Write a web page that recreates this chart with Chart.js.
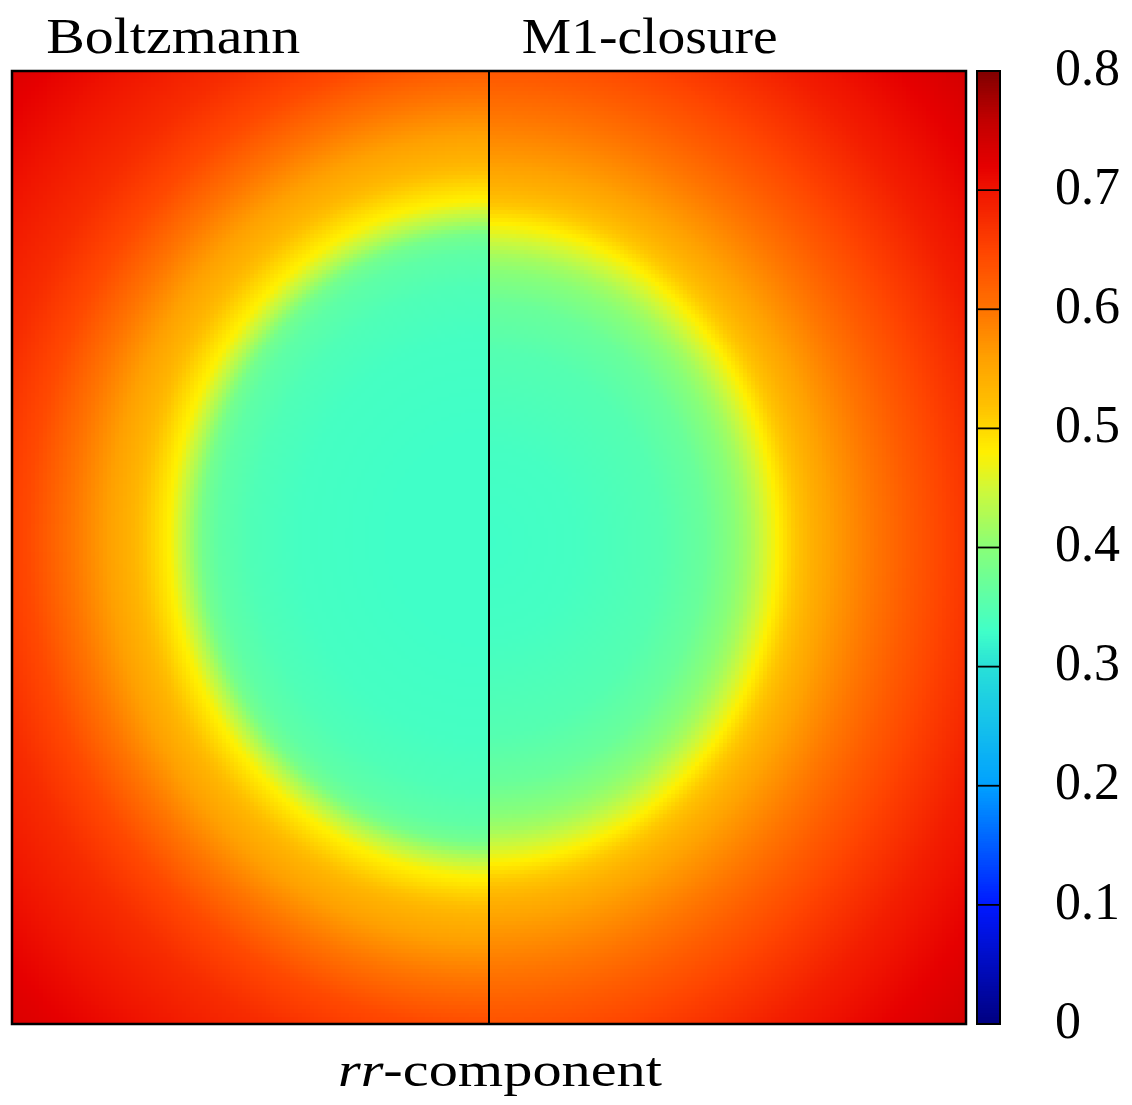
<!DOCTYPE html>
<html lang="en">
<head>
<meta charset="UTF-8">
<title>rr-component</title>
<script src="https://cdn.jsdelivr.net/npm/chart.js"></script>
<style>
  html, body { margin: 0; padding: 0; background: #fff; }
  #wrap { width: 1132px; height: 1105px; }
</style>
</head>
<body>
<div id="wrap"><canvas id="field"></canvas></div>
<script>
// panel titles, left half then right half
const panelNames = ['Boltzmann', 'M1-closure'];
const cbTicks = [0, 0.1, 0.2, 0.3, 0.4, 0.5, 0.6, 0.7, 0.8];

// rr value along the elliptical radius (1 = the yellow front)
const rhoKnots    = [0,    0.3,  0.6,   0.75,  0.85, 0.9,  0.95, 1.0,   1.05, 1.12,  1.2,  1.3,   1.45,  1.6,   1.8,  2.0,   2.3];
const boltzmannRR = [0.33, 0.33, 0.335, 0.345, 0.36, 0.38, 0.43, 0.475, 0.5,  0.535, 0.56, 0.595, 0.645, 0.675, 0.7,  0.725, 0.75];
const m1RR        = [0.33, 0.335, 0.35, 0.37,  0.4,  0.42, 0.45, 0.48,  0.51, 0.54,  0.565, 0.59, 0.625, 0.655, 0.69, 0.715, 0.75];

// front ellipse in domain units: semi-axis x, semi-axis y, centre y
const boltzmannRing = [0.665, 0.706, 0.02];
const m1Ring        = [0.606, 0.67, 0.01];

// colour map
const cmapVals = [0, 0.1, 0.2, 0.3, 0.33, 0.4, 0.45, 0.48, 0.52, 0.56, 0.6, 0.65, 0.7, 0.72, 0.76, 0.8];
const cmapCols = ['#000080', '#0018ff', '#00a0ff', '#28e0d8', '#40ffc8', '#88ff78', '#d0f838', '#fff000',
                  '#ffc000', '#ffa000', '#ff7400', '#ff4400', '#f01400', '#e60000', '#c00000', '#800000'];

const N = 240;            // cells per side
const cell = 2 / N;

function lerpTable(xs, ys, x) {
  if (x <= xs[0]) return ys[0];
  for (let i = 1; i < xs.length; i++) {
    if (x <= xs[i]) {
      const t = (x - xs[i - 1]) / (xs[i] - xs[i - 1]);
      return ys[i - 1] + t * (ys[i] - ys[i - 1]);
    }
  }
  return ys[ys.length - 1];
}

const rgb = cmapCols.map(h => [1, 3, 5].map(k => parseInt(h.substr(k, 2), 16)));
function colorFor(v) {
  let i = 1;
  while (i < cmapVals.length - 1 && v > cmapVals[i]) i++;
  const t = Math.min(1, Math.max(0, (v - cmapVals[i - 1]) / (cmapVals[i] - cmapVals[i - 1])));
  const a = rgb[i - 1], b = rgb[i];
  return `rgb(${a.map((c, k) => Math.round(c + t * (b[k] - c))).join(',')})`;
}

// build the cells: left half Boltzmann, right half M1
const cells = [];
for (let j = 0; j < N; j++) {
  const y = -1 + (j + 0.5) * cell;
  for (let i = 0; i < N; i++) {
    const x = -1 + (i + 0.5) * cell;
    const left = x < 0;
    const [ax, ay, cy] = left ? boltzmannRing : m1Ring;
    const rho = Math.hypot(x / ax, (y - cy) / ay);
    cells.push({ x, y, v: lerpTable(rhoKnots, left ? boltzmannRR : m1RR, rho) });
  }
}

function wideText(ctx, text, cx, base, width) {
  const w = ctx.measureText(text).width;
  ctx.save();
  ctx.translate(cx, base);
  ctx.scale(width / w, 1);
  ctx.textAlign = 'center';
  ctx.fillText(text, 0, 0);
  ctx.restore();
}

const heatmap = {
  id: 'heatmap',
  beforeDatasetsDraw(chart) {
    const { ctx, scales: { x: xs, y: ys } } = chart;
    const h = cell / 2;
    ctx.save();
    chart.data.datasets[0].data.forEach(c => {
      const l = Math.floor(xs.getPixelForValue(c.x - h));
      const r = Math.ceil(xs.getPixelForValue(c.x + h));
      const t = Math.floor(ys.getPixelForValue(c.y + h));
      const b = Math.ceil(ys.getPixelForValue(c.y - h));
      ctx.fillStyle = colorFor(c.v);
      ctx.fillRect(l, t, r - l, b - t);
    });
    ctx.restore();
  },
  afterDraw(chart) {
    const { ctx, chartArea: a, scales: { x: xs, cb } } = chart;
    ctx.save();
    ctx.strokeStyle = '#000';

    // frame and divider
    ctx.lineWidth = 2.5;
    ctx.strokeRect(a.left, a.top, a.right - a.left, a.bottom - a.top);
    ctx.lineWidth = 2;
    const xm = xs.getPixelForValue(0);
    ctx.beginPath();
    ctx.moveTo(xm, a.top);
    ctx.lineTo(xm, a.bottom);
    ctx.stroke();

    // colour bar
    const bl = cb.left + 11, bw = 23;
    for (let v = 0; v < 0.8; v += 0.002) {
      const t = Math.floor(cb.getPixelForValue(v + 0.002));
      const b = Math.ceil(cb.getPixelForValue(v));
      ctx.fillStyle = colorFor(v + 0.001);
      ctx.fillRect(bl, t, bw, b - t);
    }
    ctx.lineWidth = 2;
    ctx.strokeRect(bl, cb.getPixelForValue(0.8), bw, cb.getPixelForValue(0) - cb.getPixelForValue(0.8));
    ctx.lineWidth = 1.8;
    cbTicks.slice(1, -1).forEach(v => {
      const py = cb.getPixelForValue(v);
      ctx.beginPath();
      ctx.moveTo(bl, py);
      ctx.lineTo(bl + bw, py);
      ctx.stroke();
    });

    // titles and caption
    ctx.fillStyle = '#000';
    ctx.textBaseline = 'alphabetic';
    ctx.font = '50px "Liberation Serif"';
    wideText(ctx, panelNames[0], xs.getPixelForValue(-0.662), a.top - 18, 254);
    wideText(ctx, panelNames[1], xs.getPixelForValue(0.337), a.top - 18, 256);

    const rest = '-component';
    ctx.font = 'italic 48px "Liberation Serif"';
    const wi = ctx.measureText('rr').width;
    ctx.font = '48px "Liberation Serif"';
    const wr = ctx.measureText(rest).width;
    const sx = 324 / (wi + wr);
    const cx = xs.getPixelForValue(0.023);
    ctx.translate(cx - (wi + wr) * sx / 2, a.bottom + 62);
    ctx.scale(sx, 1);
    ctx.textAlign = 'left';
    ctx.font = 'italic 48px "Liberation Serif"';
    ctx.fillText('rr', 0, 0);
    ctx.font = '48px "Liberation Serif"';
    ctx.fillText(rest, wi, 0);
    ctx.restore();
  }
};

new Chart(document.getElementById('field'), {
  type: 'scatter',
  data: {
    datasets: [{
      label: 'rr',
      data: cells,
      pointRadius: 0,
      showLine: false
    }]
  },
  options: {
    responsive: true,
    maintainAspectRatio: false,
    animation: false,
    events: [],
    layout: { padding: { left: 12, top: 71, right: 0, bottom: 81 } },
    plugins: { legend: { display: false }, tooltip: { enabled: false } },
    scales: {
      x: { type: 'linear', min: -1, max: 1, display: false },
      y: { type: 'linear', min: -1, max: 1, display: false },
      cb: {
        type: 'linear',
        position: 'right',
        min: 0,
        max: 0.8,
        afterFit: s => { s.width = 166; s.paddingTop = 0; s.paddingBottom = 0; },
        afterBuildTicks: s => { s.ticks = cbTicks.map(v => ({ value: v })); },
        border: { display: false },
        grid: { display: false, drawTicks: false },
        ticks: {
          padding: 89,
          color: '#000',
          font: { family: 'Liberation Serif', size: 52 },
          callback: v => (v === 0 ? '0' : v.toFixed(1))
        }
      }
    }
  },
  plugins: [heatmap]
});
</script>
</body>
</html>
